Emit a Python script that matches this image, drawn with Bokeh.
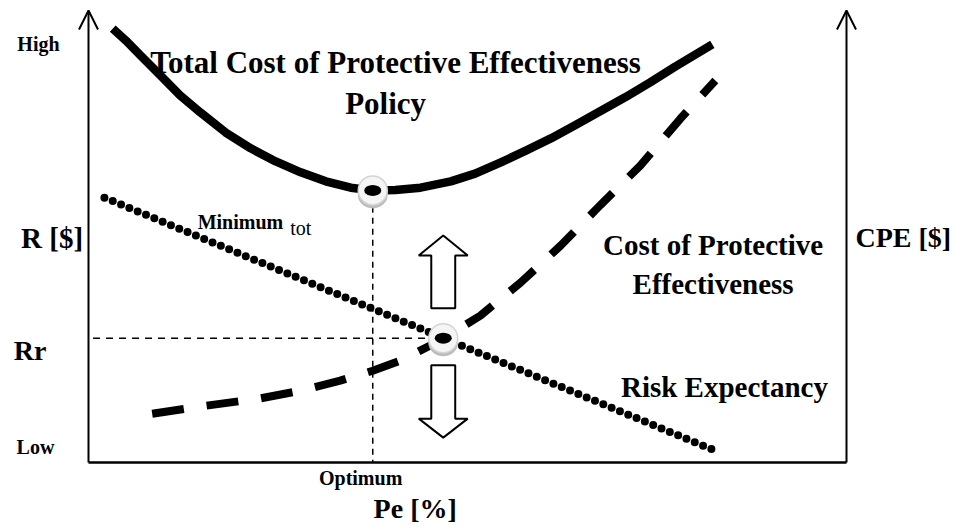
from bokeh.plotting import figure
from bokeh.models import Range1d, Arrow, OpenHead
from bokeh.core.properties import value
from bokeh.embed import file_html
from bokeh.resources import INLINE

# ---------------- data (conceptual units: Pe 0..100, cost 0..100) ----------------
total_x = [3.2, 4.9, 6.9, 9.5, 12.1, 14.8, 18.1, 21.4, 24.7, 28.0, 31.3, 34.6, 37.5,
           40.5, 43.8, 47.8, 51.0, 54.4, 57.7, 61.0, 64.2, 67.5, 70.8, 74.1, 77.4, 82.3]
total_y = [96.0, 93.4, 90.0, 85.6, 81.2, 77.4, 73.0, 69.5, 66.6, 64.2, 62.2, 60.8, 60.2,
           60.3, 60.8, 62.2, 63.9, 66.4, 69.0, 71.7, 74.6, 77.7, 80.8, 84.1, 87.6, 92.5]

cpe_x = [8.4, 14.8, 22.7, 28.0, 33.2, 37.5, 41.2, 46.4, 51.7, 57.0, 62.3, 67.5, 72.8, 78.1, 82.7]
cpe_y = [10.8, 12.4, 14.2, 15.9, 18.1, 20.3, 22.6, 27.0, 32.5, 39.8, 48.0, 56.9, 65.7, 76.1, 84.5]

risk_x = [2.1, 82.7]
risk_y = [58.6, 2.6]

optimum_x = 37.5      # Pe at minimum total cost
minimum_y = 60.2      # minimum total cost
cross_x = 46.8        # risk / CPE crossing
rr_y = 27.5           # Rr level

axis_labels = ["High", "Low", "R [$]", "Rr", "CPE [$]", "Optimum", "Pe [%]"]
curve_labels = ["Total Cost of Protective Effectiveness", "Policy",
                "Cost of Protective", "Effectiveness", "Risk Expectancy"]
min_label = ["Minimum", "tot"]

# ---------------- figure ----------------
W, H = 955, 530
p = figure(width=W, height=H, output_backend="svg", toolbar_location=None,
           x_range=Range1d(-11.609, 114.380), y_range=Range1d(-15.044, 102.212),
           x_axis_type=None, y_axis_type=None, min_border=0)
p.grid.visible = False
p.outline_line_color = None
p.background_fill_color = "white"
p.border_fill_color = "white"

# axes drawn as arrows
for ax in (0, 100):
    p.add_layout(Arrow(end=OpenHead(size=19, line_width=2, line_color="black"),
                       x_start=ax, y_start=0, x_end=ax, y_end=100,
                       line_width=2, line_color="black"))
p.line([0, 100], [0, 0], line_width=2.5, line_color="black")

# thin dashed guide lines
p.line([optimum_x, optimum_x], [minimum_y - 3.6, 0], line_width=1.5,
       line_color="black", line_dash="6 5")
p.line([0.6, cross_x - 1.8], [rr_y, rr_y], line_width=1.5,
       line_color="black", line_dash="7 6")

# curves
p.line(risk_x, risk_y, line_width=8, line_color="black", line_dash="0 9",
       line_cap="round")
p.line(cpe_x, cpe_y, line_width=8, line_color="black", line_dash="32 23",
       line_cap="butt")
p.line(total_x, total_y, line_width=8.5, line_color="black", line_join="round")

# hollow block arrows (up and down from the crossing point)
def block_arrow(xc, y_tail, y_base, y_tip, shaft_hw, head_hw):
    xs = [xc - shaft_hw, xc - shaft_hw, xc - head_hw, xc, xc + head_hw,
          xc + shaft_hw, xc + shaft_hw]
    ys = [y_tail, y_base, y_base, y_tip, y_base, y_base, y_tail]
    return xs, ys

ux, uy = block_arrow(cross_x, rr_y + 6.6, rr_y + 18.3, rr_y + 22.7, 1.58, 3.23)
dx, dy = block_arrow(cross_x, rr_y - 6.0, rr_y - 17.8, rr_y - 22.0, 1.58, 3.23)
p.patches([ux, dx], [uy, dy], fill_color="white", line_color="black", line_width=2)

# 3D-looking markers
mk_x = [optimum_x, cross_x]
mk_y = [minimum_y, rr_y]
p.ellipse([x for x in mk_x], [y - 0.9 for y in mk_y], width=30, height=28,
          width_units="screen", height_units="screen",
          fill_color="#bcbcbc", line_color=None)
p.scatter(mk_x, mk_y, size=29, fill_color="#f5f5f5", line_color="#d4d4d4",
          line_width=1.5)
p.ellipse(mk_x, mk_y, width=17, height=11, width_units="screen",
          height_units="screen", fill_color="black", line_color=None)

# texts
serif = value("Liberation Serif")

def label(x, y, t, size, align="center", style="bold"):
    p.text([x], [y], text=[t], text_font=serif, text_font_size=size,
           text_font_style=style, text_align=align, text_baseline="middle",
           text_color="black")

label(-6.6, 92.5, axis_labels[0], "20px")
label(-7.0, 3.4, axis_labels[1], "20px")
label(-4.8, 49.6, axis_labels[2], "29px")
label(-7.7, 24.8, axis_labels[3], "28px")
label(107.5, 49.8, axis_labels[4], "28px")
label(35.9, -3.4, axis_labels[5], "20px")
label(43.1, -10.2, axis_labels[6], "28px")

label(40.5, 88.5, curve_labels[0], "31px")
label(39.2, 79.4, curve_labels[1], "31px")
label(82.4, 48.2, curve_labels[2], "29px")
label(82.4, 39.6, curve_labels[3], "29px")
label(83.9, 16.6, curve_labels[4], "29px")

label(14.4, 53.1, min_label[0], "20px", align="left")
label(26.6, 51.8, min_label[1], "20px", align="left", style="normal")

open("out.html", "w").write(file_html(p, INLINE))
